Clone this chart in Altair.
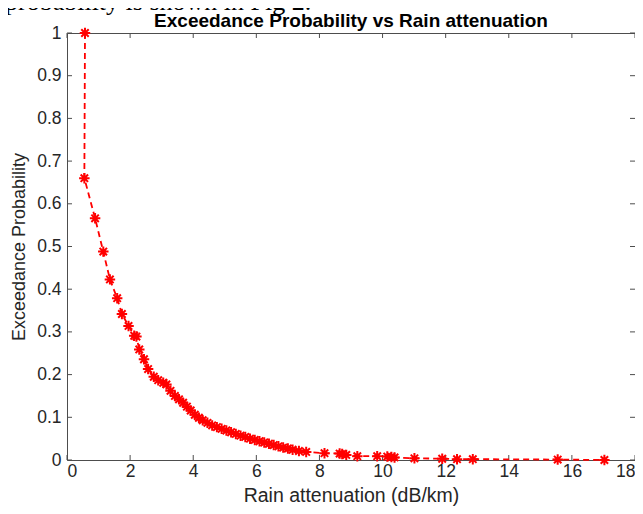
import altair as alt
import pandas as pd

# ---- data ----
atten = [0.57, 0.55, 0.89, 1.15, 1.36, 1.59, 1.74, 1.95, 2.13, 2.20, 2.29, 2.44,
         2.57, 2.75, 2.89, 3.05, 3.15, 3.28, 3.42, 3.55, 3.68, 3.80, 3.92, 4.05,
         4.18, 4.30, 4.45, 4.60, 4.75, 4.90, 5.05, 5.20, 5.35, 5.50, 5.65, 5.80,
         5.95, 6.10, 6.25, 6.40, 6.55, 6.70, 6.85, 7.00, 7.15, 7.35, 7.58, 8.16,
         8.64, 8.72, 8.85, 9.20, 9.83, 10.15, 10.28, 10.38, 11.01, 11.89, 12.36,
         12.86, 15.55, 17.03]
prob = [1.000, 0.660, 0.566, 0.488, 0.423, 0.379, 0.342, 0.314, 0.291, 0.289,
        0.259, 0.236, 0.213, 0.195, 0.187, 0.181, 0.177, 0.162, 0.150, 0.142,
        0.134, 0.125, 0.116, 0.106, 0.099, 0.093, 0.087, 0.081, 0.077, 0.073,
        0.069, 0.065, 0.061, 0.057, 0.054, 0.050, 0.047, 0.044, 0.041, 0.038,
        0.035, 0.032, 0.029, 0.027, 0.024, 0.021, 0.019, 0.016, 0.015, 0.014,
        0.012, 0.009, 0.009, 0.008, 0.007, 0.006, 0.004, 0.003, 0.002, 0.002,
        0.001, 0.000]
x_ticks = [0, 2, 4, 6, 8, 10, 12, 14, 16, 18]
y_ticks = [0, 0.1, 0.2, 0.3, 0.4, 0.5, 0.6, 0.7, 0.8, 0.9, 1]
title_text = "Exceedance Probability vs Rain attenuation"
x_title = "Rain attenuation (dB/km)"
y_title = "Exceedance Probability"
above_text = "probability is shown in Fig 2."

W, H = 568, 427
FONT = "Liberation Sans"
AX = "#262626"
BOX = "#4d4d4d"
TICKLEN = 5

df = pd.DataFrame({"atten": atten, "prob": prob, "idx": list(range(len(atten)))})
xt = pd.DataFrame({"v": x_ticks})
yt = pd.DataFrame({"v": y_ticks})

xscale = alt.Scale(domain=[0, 18], nice=False, zero=False)
yscale = alt.Scale(domain=[0, 1], nice=False, zero=False)

xaxis = alt.Axis(values=x_ticks, title=x_title, format="~g", grid=False,
                 domain=False, ticks=False, labelPadding=2, titlePadding=7,
                 labelFontSize=17.5, titleFontSize=19.5, labelFont=FONT, titleFont=FONT,
                 labelColor=AX, titleColor=AX, titleFontWeight="normal")
yaxis = alt.Axis(values=y_ticks, title=y_title, format="~g", grid=False,
                 domain=False, ticks=False, labelPadding=6, titlePadding=8,
                 labelFontSize=17.5, titleFontSize=18, labelFont=FONT, titleFont=FONT,
                 labelColor=AX, titleColor=AX, titleFontWeight="normal")

ASTERISK = ("M-1,0L1,0M0,-1L0,1M-0.7071,-0.7071L0.7071,0.7071"
            "M-0.7071,0.7071L0.7071,-0.7071")

line = alt.Chart(df).mark_line(color="#ff0000", strokeWidth=1.8,
                               strokeDash=[6, 4]).encode(
    x=alt.X("atten:Q", scale=xscale, axis=xaxis),
    y=alt.Y("prob:Q", scale=yscale, axis=yaxis),
    order="idx:Q",
)
pts = alt.Chart(df).mark_point(shape=ASTERISK, size=110, color="#ff0000",
                               filled=False, strokeWidth=2, opacity=1).encode(
    x=alt.X("atten:Q", scale=xscale),
    y=alt.Y("prob:Q", scale=yscale),
)

tick_style = dict(color=BOX, strokeWidth=1)
bt = alt.Chart(xt).mark_rule(**tick_style).encode(
    x=alt.X("v:Q", scale=xscale), y=alt.value(H), y2=alt.value(H - TICKLEN))
tt = alt.Chart(xt).mark_rule(**tick_style).encode(
    x=alt.X("v:Q", scale=xscale), y=alt.value(0), y2=alt.value(TICKLEN))
lt = alt.Chart(yt).mark_rule(**tick_style).encode(
    y=alt.Y("v:Q", scale=yscale), x=alt.value(0), x2=alt.value(TICKLEN))
rt = alt.Chart(yt).mark_rule(**tick_style).encode(
    y=alt.Y("v:Q", scale=yscale), x=alt.value(W), x2=alt.value(W - TICKLEN))

ttl = alt.Chart(pd.DataFrame({"t": [title_text]})).mark_text(
    font=FONT, fontSize=19, fontWeight="bold", color="#000000",
    align="center", baseline="alphabetic").encode(
    text="t:N", x=alt.value(W / 2), y=alt.value(-6))
above = alt.Chart(pd.DataFrame({"t": [above_text]})).mark_text(
    font="Liberation Serif", fontSize=26, color="#000000",
    align="left", baseline="alphabetic").encode(
    text="t:N", x=alt.value(-62), y=alt.value(-23))

chart = alt.layer(bt, tt, lt, rt, line, pts, ttl, above).properties(
    width=W, height=H,
    autosize=alt.AutoSizeParams(type="none"),
    padding={"left": 59, "top": 25, "right": 0, "bottom": 46},
    background="white",
).configure_view(stroke=BOX, strokeWidth=1)

chart.save("out.html", embed_options={"renderer": "svg", "actions": False})
